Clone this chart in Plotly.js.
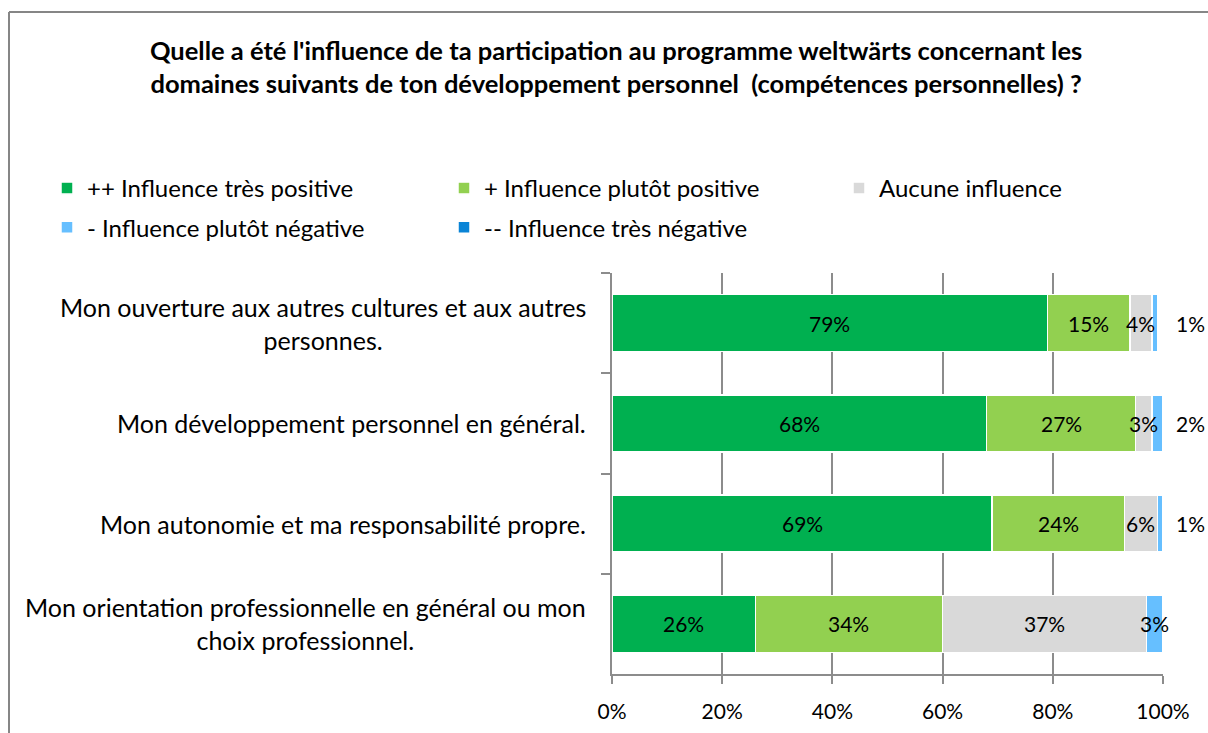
<!DOCTYPE html>
<html>
<head>
<meta charset="utf-8">
<script src="https://cdn.plot.ly/plotly-3.0.1.min.js"></script>
<style>
  html, body { margin: 0; padding: 0; background: #fff; }
  #chart { width: 1208px; height: 733px; }
</style>
</head>
<body>
<div id="chart"></div>
<script>
// catégories (de haut en bas)
const categories = [
  "Mon ouverture aux autres cultures et aux autres<br>personnes.",
  "Mon développement personnel en général.",
  "Mon autonomie et ma responsabilité propre.",
  "Mon orientation professionnelle en général ou mon<br>choix professionnel."
];

// valeurs en %
const tresPositive   = [79, 68, 69, 26];
const plutotPositive = [15, 27, 24, 34];
const aucune         = [4, 3, 6, 37];
const plutotNegative = [1, 2, 1, 3];
const tresNegative   = [0, 0, 0, 0.4];

const seriesNames = [
  "++ Influence très positive",
  "+ Influence plutôt positive",
  "Aucune influence",
  "- Influence plutôt négative",
  "-- Influence très négative"
];
const seriesValues = [tresPositive, plutotPositive, aucune, plutotNegative, tresNegative];
const colors = ["#00B050", "#92D050", "#D9D9D9", "#66BFFF", "#0A84D6"];
// colonne de légende pour chaque série (comme dans Excel: 3 colonnes, 2 lignes)
const legendIds = ["legend", "legend2", "legend3", "legend", "legend2"];

const FONT = "Lato, 'Open Sans', sans-serif";

// zone de tracé en pixels
const L = 612, R = 45, T = 273, B = 59;
const W = 1208 - L - R, H = 733 - T - B;
const px = p => (p - L) / W;        // pixel x -> paper
const py = p => (733 - B - p) / H;  // pixel y -> paper

let data = seriesValues.map((vals, i) => ({
  type: "bar",
  orientation: "h",
  x: vals,
  y: categories,
  name: seriesNames[i],
  legend: legendIds[i],
  legendgroup: "g" + i,
  marker: { color: colors[i], line: { color: "#ffffff", width: 1.5 } },
  hoverinfo: "x+name"
}));

// étiquettes de données
let annotations = [];
categories.forEach((cat, j) => {
  let cum = 0;
  seriesValues.forEach((vals, i) => {
    const v = vals[j];
    if (v >= 1) {
      const outside = v <= 2 && i === 3;
      annotations.push({
        x: outside ? px(1190) : cum + v / 2,
        y: cat,
        xref: outside ? "paper" : "x", yref: "y",
        xanchor: "center",
        text: Math.round(v) + "%",
        showarrow: false,
        font: { family: FONT, size: 21, color: "#000" }
      });
    }
    cum += v;
  });
  // libellés de catégories centrés
  annotations.push({
    x: px(588), xref: "paper", xanchor: "right",
    y: cat, yref: "y",
    text: cat, align: "center",
    showarrow: false,
    font: { family: FONT, size: 25, color: "#000" }
  });
});

const legendBase = {
  orientation: "v",
  xref: "paper", yref: "paper",
  xanchor: "left", yanchor: "top",
  y: py(166),
  tracegroupgap: 5,
  font: { family: FONT, size: 24, color: "#000" },
  bgcolor: "rgba(0,0,0,0)",
  itemclick: false
};

let layout = {
  width: 1208,
  height: 733,
  barmode: "stack",
  bargap: 0.43,
  paper_bgcolor: "#fff",
  plot_bgcolor: "#fff",
  margin: { l: L, r: R, t: T, b: B, autoexpand: false },
  title: {
    text: "<b>Quelle a été l'influence de ta participation au programme weltwärts concernant les<br>domaines suivants de ton développement personnel  (compétences personnelles) ?</b>",
    font: { family: FONT, size: 25.5, color: "#000" },
    x: 0.51, xref: "container", xanchor: "center",
    y: 1 - 60 / 733, yref: "container", yanchor: "top"
  },
  showlegend: true,
  legend: Object.assign({}, legendBase, { x: px(47) }),
  legend2: Object.assign({}, legendBase, { x: px(444) }),
  legend3: Object.assign({}, legendBase, { x: px(839) }),
  xaxis: {
    range: [0, 100],
    tickvals: [0, 20, 40, 60, 80, 100],
    ticktext: ["0%", "20%", "40%", "60%", "80%", "100%"],
    showgrid: true,
    gridcolor: "#8c8c8c",
    gridwidth: 1.5,
    zeroline: false,
    showline: true,
    linecolor: "#8c8c8c",
    linewidth: 1.5,
    ticks: "outside",
    ticklen: 8,
    tickcolor: "#8c8c8c",
    tickwidth: 1.5,
    ticklabelstandoff: 10,
    tickfont: { family: FONT, size: 21, color: "#000" },
    fixedrange: true
  },
  yaxis: {
    autorange: "reversed",
    showticklabels: false,
    ticks: "outside",
    tickson: "boundaries",
    ticklen: 9,
    tickcolor: "#8c8c8c",
    tickwidth: 1.5,
    showline: true,
    linecolor: "#8c8c8c",
    linewidth: 1.5,
    showgrid: false,
    fixedrange: true
  },
  annotations: annotations,
  shapes: [
    { // cadre du graphique: bord gauche
      type: "line", xref: "paper", yref: "paper", layer: "above",
      x0: px(9), x1: px(9), y0: py(740), y1: py(12),
      line: { color: "#868686", width: 2 }
    },
    { // bord supérieur
      type: "line", xref: "paper", yref: "paper", layer: "above",
      x0: px(9), x1: px(1215), y0: py(12), y1: py(12),
      line: { color: "#868686", width: 2 }
    }
  ]
};

Plotly.newPlot("chart", data, layout, { displayModeBar: false, responsive: false });
</script>
</body>
</html>
